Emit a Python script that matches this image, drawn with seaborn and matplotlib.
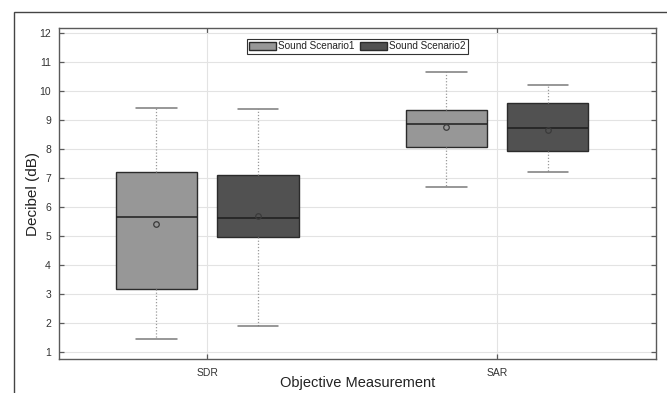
import numpy as np
import pandas as pd
import seaborn as sns
import matplotlib
matplotlib.use("Agg")
import matplotlib.pyplot as plt
from matplotlib.patches import Rectangle

# ---- data ----
measures = ["SDR", "SAR"]
scenarios = ["Sound Scenario1", "Sound Scenario2"]
# five-number summaries: [min, q1, median, q3, max]
sdr_s1 = [1.46, 3.20, 5.65, 7.22, 9.42]
sdr_s2 = [1.90, 4.99, 5.64, 7.13, 9.40]
sar_s1 = [6.70, 8.07, 8.86, 9.37, 10.67]
sar_s2 = [7.22, 7.93, 8.73, 9.59, 10.23]
means_s1 = [5.43, 8.77]
means_s2 = [5.69, 8.65]
y_ticks = list(range(1, 13))

summaries = {("SDR", scenarios[0]): sdr_s1, ("SDR", scenarios[1]): sdr_s2,
             ("SAR", scenarios[0]): sar_s1, ("SAR", scenarios[1]): sar_s2}
rows = []
for (m, s), vals in summaries.items():
    for v in vals:
        rows.append({"Measure": m, "Scenario": s, "dB": v})
df = pd.DataFrame(rows)

# ---- style ----
sns.set_theme(style="ticks")
plt.rcParams["font.family"] = ["Liberation Sans", "DejaVu Sans"]

fig = plt.figure(figsize=(6.67, 3.93), dpi=100)
ax = fig.add_axes([0.0889, 0.0857, 0.9831 - 0.0889, 0.928 - 0.0857])

colors = ["#979797", "#515151"]
box_width = 0.7
sns.boxplot(data=df, x="Measure", y="dB", hue="Scenario", order=measures,
            hue_order=scenarios, palette=colors, saturation=1,
            width=box_width, gap=0.2, whis=(0, 100), linewidth=1.0,
            linecolor="#2b2b2b", fliersize=0,
            whiskerprops=dict(linestyle=(0, (1, 1.5)), color="#9a9a9a", linewidth=0.9),
            capprops=dict(color="#7a7a7a", linewidth=1.1),
            medianprops=dict(color="#1e1e1e", linewidth=1.1),
            ax=ax, zorder=3)

# means (hollow circles) placed at the dodged box centres
for j, means in enumerate([means_s1, means_s2]):
    offset = (j - (len(scenarios) - 1) / 2) * box_width / len(scenarios)
    xs = np.arange(len(measures)) + offset
    ax.plot(xs, means, linestyle="none", marker="o", markersize=4.0,
            markerfacecolor="none", markeredgecolor="#3a3a3a",
            markeredgewidth=0.9, zorder=5)

ax.set_xlim(-0.51, 1.547)
ax.set_ylim(0.76, 12.17)
ax.set_yticks(y_ticks)
ax.grid(True, color="#e3e3e3", linewidth=0.8, zorder=0)
ax.set_axisbelow(True)
for sp in ax.spines.values():
    sp.set_visible(True)
    sp.set_color("#5a5a5a")
    sp.set_linewidth(1.0)
ax.tick_params(axis="both", which="both", direction="in", length=3.5,
               width=0.9, color="#5a5a5a", labelsize=7.5, labelcolor="#333333",
               top=True, right=True, pad=6)

ax.set_xlabel("Objective Measurement", fontsize=10.5, color="#222222")
ax.set_ylabel("Decibel (dB)", fontsize=11, color="#222222")
ax.xaxis.set_label_coords(0.5, -0.05)
ax.yaxis.set_label_coords(-0.032, 0.5)

sns.move_legend(ax, "upper center", bbox_to_anchor=(0.5, 0.983), ncol=2,
                title=None, frameon=True, fontsize=7.2, handlelength=2.7,
                handleheight=0.85, handletextpad=0.2, columnspacing=0.55,
                borderpad=0.25, fancybox=False, framealpha=1,
                edgecolor="#333333")
leg = ax.get_legend()
leg.get_frame().set_linewidth(0.8)
for t in leg.get_texts():
    t.set_color("#222222")

# outer frame of the figure (clipped screenshot border)
fig.patches.append(Rectangle((14 / 667, -0.2), 1.2, 0.2 + (1 - 12 / 393),
                             transform=fig.transFigure, fill=False,
                             edgecolor="#444444", linewidth=1.0))

fig.savefig("out.png", dpi=100, facecolor="white")
